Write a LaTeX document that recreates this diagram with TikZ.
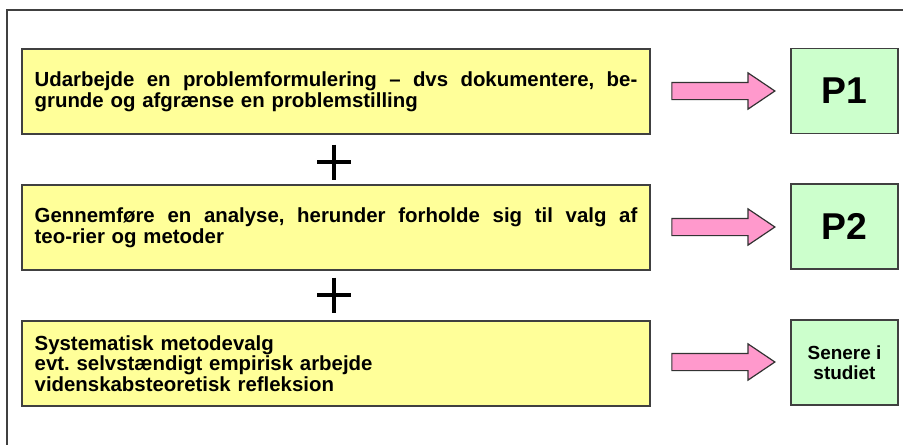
\documentclass[tikz,border=0pt]{standalone}
\usepackage{fontspec}
\setmainfont{Liberation Sans}
\usetikzlibrary{shapes.arrows}
\definecolor{boxyellow}{HTML}{FFFF99}
\definecolor{boxgreen}{HTML}{CCFFCC}
\definecolor{arrowpink}{HTML}{FF99CC}
\frenchspacing
\newcommand{\fullline}[1]{\hbox to 452pt{\spaceskip=0.28em plus 1em\relax #1}}
\tikzset{
	ybox/.style={draw=black!75, line width=0.9pt, fill=boxyellow, minimum width=471pt, minimum height=63.75pt, text width=452pt, align=left, inner sep=0pt, font=\bfseries\fontsize{15.3}{15.6}\selectfont},
	gbox/.style={draw=black!75, line width=0.9pt, fill=boxgreen, minimum width=80.25pt, minimum height=63.75pt, align=center, inner sep=0pt},
	parrow/.style={single arrow, draw=black!80, line width=0.9pt, fill=arrowpink, minimum height=77.25pt, minimum width=26.25pt, inner sep=6pt, single arrow head extend=7.1pt, single arrow tip angle=68},
	plus/.style={line width=2.3pt}
}
\begin{document}
\begin{tikzpicture}[x=0.75pt, y=-0.75pt]
		%%%%% START %%%%%
		\useasboundingbox (0, 0) rectangle (903, 444);
		\clip (0, 0) rectangle (903, 444);
		
		\draw[line width=1pt, color=black!75] (7, 10) rectangle (930, 470);
		
		\node[ybox] (task1) at (336, 91.5) {\fullline{Udarbejde en problemformulering -- dvs dokumentere, be-}\\grunde og afgrænse en problemstilling};
		\node[ybox] (task2) at (336, 227.5) {\fullline{Gennemføre en analyse, herunder forholde sig til valg af}\\teo-rier og metoder};
		\node[ybox] (task3) at (336, 363.5) {Systematisk metodevalg\\evt. selvstændigt empirisk arbejde\\videnskabsteoretisk refleksion};
		
		\draw[plus] (317, 162) -- (351, 162) (334, 144.5) -- (334, 179.5);
		\draw[plus] (317, 295) -- (351, 295) (334, 277.5) -- (334, 312.5);
		
		\node[parrow] (arr1) at (717, 91) {};
		\node[parrow] (arr2) at (717, 227) {};
		\node[parrow] (arr3) at (717, 362) {};
		
		\node[gbox, font=\bfseries\fontsize{28}{32}\selectfont] (p1) at (844.5, 91) {P1};
		\node[gbox, font=\bfseries\fontsize{28}{32}\selectfont] (p2) at (844.5, 226.5) {P2};
		\node[gbox, font=\bfseries\fontsize{14.2}{15}\selectfont] (later) at (844.5, 362.5) {Senere i\\studiet};
		%%%%% END %%%%%
\end{tikzpicture}
\end{document}
